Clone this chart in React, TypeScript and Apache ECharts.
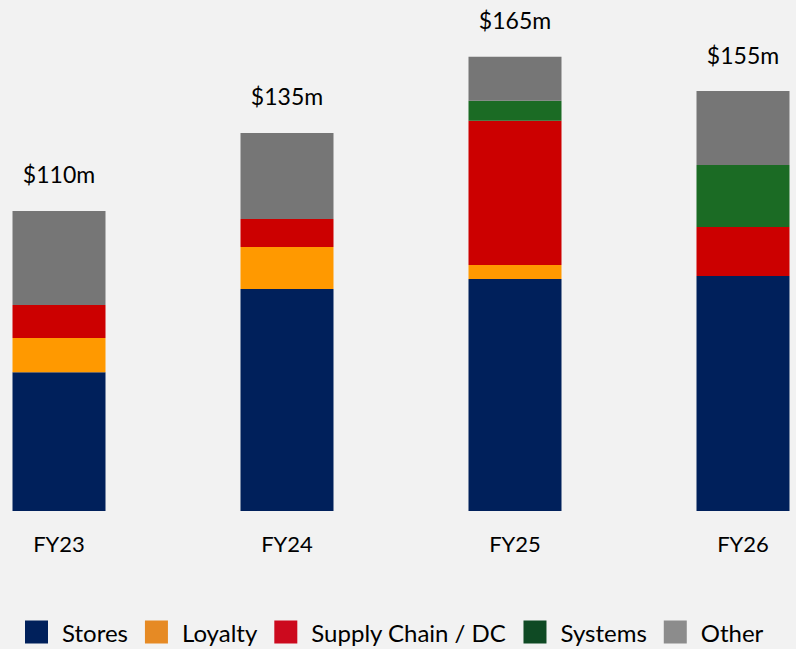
import React, { useEffect, useRef } from "react";
import * as echarts from "echarts";

const categories = ["FY23", "FY24", "FY25", "FY26"];
const totalLabels = ["$110m", "$135m", "$165m", "$155m"];
const stores = [50.5, 80.7, 84.4, 85.5];
const loyalty = [12.4, 15.3, 5.1, 0];
const supplyChain = [12.0, 10.2, 52.4, 17.8];
const systems = [0, 0, 7.3, 22.5];
const other = [34.2, 31.3, 16.0, 26.9];

const seriesNames = ["Stores", "Loyalty", "Supply Chain / DC", "Systems", "Other"];
const barColors = ["#00205b", "#ff9900", "#cc0000", "#1b6b24", "#767676"];
const legendColors = ["#00205b", "#e68a24", "#cc0a1e", "#0f4a24", "#8c8c8c"];

export default function App() {
  const ref = useRef<HTMLDivElement>(null);
  useEffect(() => {
    if (!ref.current) return;
    const chart = echarts.init(ref.current, null, { renderer: "svg" });
    const font = "Lato, 'Open Sans', sans-serif";
    const values = [stores, loyalty, supplyChain, systems, other];
    const series: any[] = values.map((vals, i) => ({
      name: seriesNames[i],
      type: "bar",
      stack: "total",
      barWidth: 93,
      clip: false,
      data: vals,
      itemStyle: { color: barColors[i] },
      label:
        i === values.length - 1
          ? {
              show: true,
              position: "top",
              distance: 25,
              color: "#000",
              fontFamily: font,
              fontSize: 23,
              formatter: (p: any) => totalLabels[p.dataIndex],
            }
          : { show: false },
    }));
    chart.setOption({
      animation: false,
      backgroundColor: "#f2f2f2",
      grid: { left: 59, right: 53, top: 16, bottom: 138 },
      xAxis: {
        type: "category",
        data: categories,
        boundaryGap: false,
        axisLine: { show: false },
        axisTick: { show: false },
        splitLine: { show: false },
        axisLabel: { margin: 21, color: "#000", fontFamily: font, fontSize: 22 },
      },
      yAxis: { type: "value", min: 0, max: 180, show: false, splitLine: { show: false } },
      legend: {
        left: 25,
        bottom: 5,
        padding: 0,
        itemWidth: 23,
        itemHeight: 23,
        itemGap: 17,
        icon: "rect",
        textStyle: { color: "#000", fontFamily: font, fontSize: 24, padding: [0, 0, 0, 9] },
        data: seriesNames.map((n, i) => ({ name: n, itemStyle: { color: legendColors[i] } })),
      },
      series,
    });
    return () => chart.dispose();
  }, []);
  return (
    <div
      ref={ref}
      style={{ position: "absolute", left: 0, top: 0, width: 796, height: 649 }}
    />
  );
}
